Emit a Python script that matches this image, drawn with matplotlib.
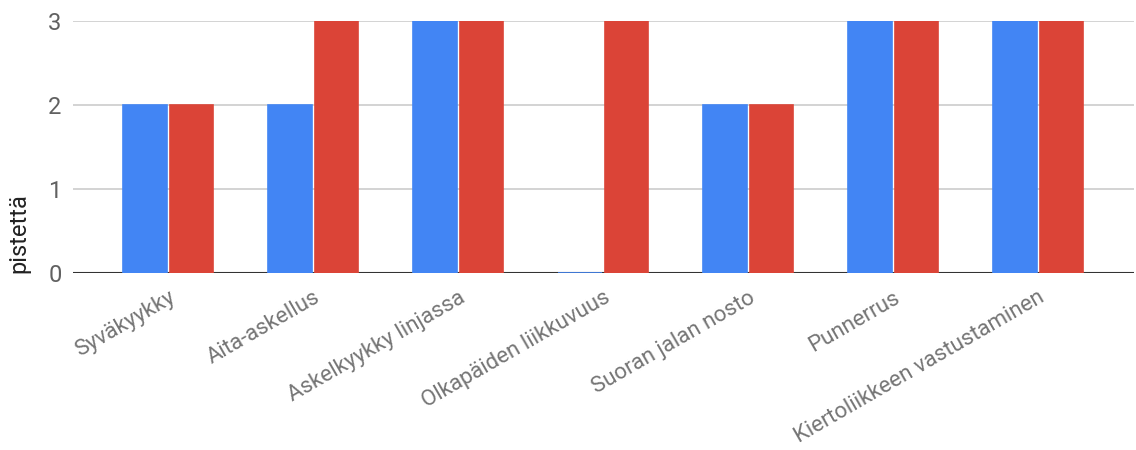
import numpy as np
import matplotlib
matplotlib.use("Agg")
from matplotlib import pyplot as plt
from matplotlib.transforms import ScaledTranslation

plt.rcParams['font.family'] = ['Roboto', 'DejaVu Sans']

categories = ["Syväkyykky", "Aita-askellus", "Askelkyykky linjassa",
              "Olkapäiden liikkuvuus", "Suoran jalan nosto", "Punnerrus",
              "Kiertoliikkeen vastustaminen"]
series_blue = [2, 2, 3, 0, 2, 3, 3]
series_red = [2, 3, 3, 3, 2, 3, 3]
y_ticks = [0, 1, 2, 3]

fig = plt.figure(figsize=(11.36, 4.5), dpi=100)
ax = fig.add_axes([0.064, 0.393, 0.934, 0.56])

x = np.arange(len(categories))
w = 0.30
ax.axhline(0, color="#333333", linewidth=1.5, zorder=4)
ax.bar(x - 0.16, series_blue, w, color="#4285F4", edgecolor="#4285F4", linewidth=1.2, zorder=5)
ax.bar(x + 0.16, series_red, w, color="#DB4437", edgecolor="#DB4437", linewidth=1.2, zorder=5)

ax.set_xlim(-0.66, 6.66)
ax.set_ylim(0, 3)
ax.set_yticks(y_ticks)
ax.set_yticklabels([str(t) for t in y_ticks], fontsize=17, color="#616161")
ax.yaxis.grid(True, color="#cccccc", linewidth=1.2, zorder=0)

ax.set_xticks(x)
ax.set_xticklabels(categories, rotation=30, ha="right", rotation_mode="anchor",
                   fontsize=16, color="#757575")
offset = ScaledTranslation(0.33, 0, fig.dpi_scale_trans)
for lab in ax.get_xticklabels():
    lab.set_transform(lab.get_transform() + offset)

ax.tick_params(axis="both", length=0, pad=8)
ax.tick_params(axis="x", pad=10)
for s in ax.spines.values():
    s.set_visible(False)

ax.set_ylabel("pistettä", fontsize=17, color="#222222")
ax.yaxis.set_label_coords(-0.04, 0.0, transform=ax.transAxes)
ax.yaxis.label.set_va("bottom")
ax.yaxis.label.set_ha("left")

fig.savefig("out.png", dpi=100)
